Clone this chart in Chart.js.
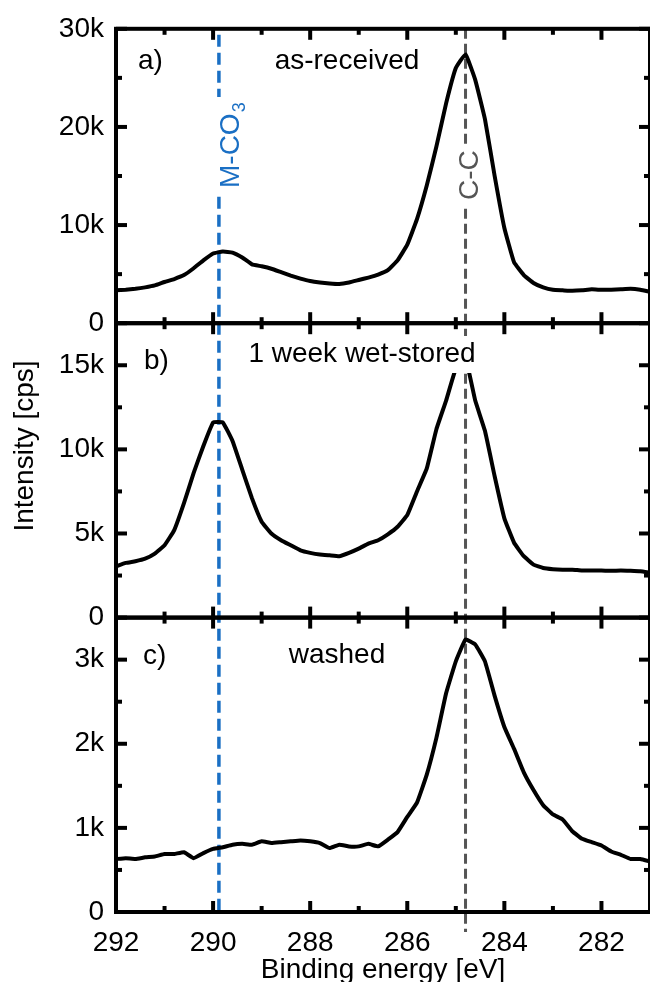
<!DOCTYPE html>
<html>
<head>
<meta charset="utf-8">
<script src="https://cdn.jsdelivr.net/npm/chart.js@4.4.1/dist/chart.umd.min.js"></script>
<style>
  html, body { margin: 0; padding: 0; background: #fff; }
  #wrap { width: 650px; height: 982px; }
</style>
</head>
<body>
<div id="wrap"><canvas id="xps" width="650" height="982"></canvas></div>
<script>
// binding energy grid [eV]
var energy = [292.0, 291.8, 291.6, 291.4, 291.2, 291.0, 290.8, 290.6, 290.4, 290.2,
              290.0, 289.8, 289.6, 289.4, 289.2, 289.0, 288.8, 288.6, 288.4, 288.2,
              288.0, 287.8, 287.6, 287.4, 287.2, 287.0, 286.8, 286.6, 286.4, 286.2,
              286.0, 285.8, 285.6, 285.4, 285.2, 285.0, 284.8, 284.6, 284.4, 284.2,
              284.0, 283.8, 283.6, 283.4, 283.2, 283.0, 282.8, 282.6, 282.4, 282.2,
              282.0, 281.8, 281.6, 281.4, 281.2, 281.0];

// a) as-received [cps]
var asReceived = [3350, 3400, 3500, 3650, 3850, 4200, 4500, 4900, 5600, 6400,
                  7100, 7300, 7200, 6700, 6000, 5800, 5550, 5200, 4850, 4550,
                  4300, 4150, 4050, 4000, 4150, 4400, 4650, 4950, 5400, 6400,
                  8000, 10600, 14000, 18000, 22400, 26000, 27400, 24800, 20800, 15000,
                  9700, 6200, 4900, 4100, 3650, 3400, 3350, 3300, 3350, 3450,
                  3400, 3400, 3450, 3500, 3400, 3200];

// b) 1 week wet-stored [cps]
var wetStored = [3050, 3250, 3350, 3500, 3800, 4300, 5200, 6800, 8600, 10200,
                 11600, 11600, 10500, 8800, 7100, 5700, 5000, 4600, 4300, 4000,
                 3850, 3750, 3700, 3650, 3850, 4100, 4400, 4600, 4950, 5400,
                 6100, 7500, 8850, 11200, 12900, 14800, 15400, 12900, 11100, 8400,
                 5900, 4450, 3650, 3150, 2950, 2880, 2850, 2850, 2800, 2800,
                 2800, 2780, 2800, 2780, 2750, 2670];

// c) washed [cps]
var washed = [630, 640, 630, 650, 660, 690, 690, 710, 640, 700,
              750, 770, 800, 810, 800, 840, 820, 830, 840, 850,
              840, 820, 760, 800, 780, 780, 810, 780, 860, 950,
              1130, 1300, 1630, 2070, 2600, 2980, 3240, 3180, 2980, 2570,
              2200, 1940, 1660, 1450, 1270, 1160, 1100, 960, 870, 830,
              790, 720, 680, 630, 630, 600];

var xTicks = [292, 290, 288, 286, 284, 282];
var xMinor = [291, 289, 287, 285, 283];
var aTicks = [0, 10000, 20000, 30000];
var aMinor = [5000, 15000, 25000];
var bTicks = [0, 5000, 10000, 15000];
var bMinor = [2500, 7500, 12500];
var cTicks = [0, 1000, 2000, 3000];
var cMinor = [500, 1500, 2500];

var panelNames = ['a)', 'b)', 'c)'];
var panelTitles = ['as-received', '1 week wet-stored', 'washed'];
var carbonate = 289.88;   // M-CO3
var adventitious = 284.8; // C-C

var FONT = "'Liberation Sans', Arial, Helvetica, sans-serif";
var BLUE = '#1a6fc4';
var GREY = '#555555';

function kLabel(v) {
  return v === 0 ? '0' : (v / 1000) + 'k';
}

function points(ys) {
  return energy.map(function (e, i) { return { x: e, y: ys[i] }; });
}

function yScale(ticks, max) {
  return {
    type: 'linear',
    position: 'left',
    stack: 'panels',
    stackWeight: 1,
    min: 0,
    max: max,
    grid: { display: false, drawTicks: false },
    border: { display: false },
    afterBuildTicks: function (s) { s.ticks = ticks.map(function (v) { return { value: v }; }); },
    afterFit: function (s) { s.width = 116; },
    ticks: {
      color: '#000',
      padding: 12,
      font: { family: FONT, size: 28 },
      callback: kLabel
    }
  };
}

function line(ctx, x1, y1, x2, y2) {
  ctx.beginPath();
  ctx.moveTo(x1, y1);
  ctx.lineTo(x2, y2);
  ctx.stroke();
}

var decor = {
  id: 'decor',
  beforeDatasetsDraw: function (chart) {
    var ctx = chart.ctx, x = chart.scales.x;
    var top = chart.scales.ya.top, bottom = chart.scales.yc.bottom;
    ctx.save();
    ctx.lineWidth = 3.5;
    ctx.setLineDash([12, 6]);
    ctx.strokeStyle = BLUE;
    var bx = x.getPixelForValue(carbonate);
    line(ctx, bx, top + 6, bx, bottom);
    ctx.lineWidth = 3;
    ctx.setLineDash([10, 5]);
    ctx.strokeStyle = GREY;
    var gx = x.getPixelForValue(adventitious);
    line(ctx, gx, top, gx, bottom + 20);
    ctx.restore();
  },
  afterDatasetsDraw: function (chart) {
    var ctx = chart.ctx, x = chart.scales.x;
    var panels = [
      { s: chart.scales.ya, ticks: aTicks, minor: aMinor },
      { s: chart.scales.yb, ticks: bTicks, minor: bMinor },
      { s: chart.scales.yc, ticks: cTicks, minor: cMinor }
    ];
    ctx.save();
    ctx.strokeStyle = '#000';
    ctx.lineWidth = 4;

    // frames with inward ticks
    panels.forEach(function (p) {
      var t = p.s.top, b = p.s.bottom, l = x.left, r = x.right;
      ctx.strokeRect(l, t, r - l, b - t);
      xTicks.forEach(function (v) {
        var px = x.getPixelForValue(v);
        line(ctx, px, t, px, t + 11);
        line(ctx, px, b, px, b - 11);
      });
      xMinor.forEach(function (v) {
        var px = x.getPixelForValue(v);
        line(ctx, px, t, px, t + 6);
        line(ctx, px, b, px, b - 6);
      });
      p.ticks.forEach(function (v) {
        var py = p.s.getPixelForValue(v);
        line(ctx, l, py, l + 11, py);
        line(ctx, r, py, r - 11, py);
      });
      p.minor.forEach(function (v) {
        var py = p.s.getPixelForValue(v);
        line(ctx, l, py, l + 6, py);
        line(ctx, r, py, r - 6, py);
      });
    });

    // panel labels
    ctx.fillStyle = '#000';
    ctx.font = '28px ' + FONT;
    ctx.textBaseline = 'alphabetic';
    ctx.textAlign = 'left';
    ctx.fillText(panelNames[0], 138, 69);
    ctx.fillText(panelNames[1], 144, 369);
    ctx.fillText(panelNames[2], 143, 664);
    ctx.textAlign = 'center';
    ctx.fillText(panelTitles[0], 347, 69);
    var w = ctx.measureText(panelTitles[1]).width;
    ctx.fillStyle = '#fff';
    ctx.fillRect(362 - w / 2 - 3, 336, w + 6, 37);
    ctx.fillStyle = '#000';
    ctx.fillText(panelTitles[1], 362, 362);
    ctx.fillText(panelTitles[2], 337, 663);

    // rotated peak labels
    var bx = x.getPixelForValue(carbonate);
    ctx.fillStyle = '#fff';
    ctx.fillRect(bx - 4, 97, 34, 98);
    ctx.save();
    ctx.translate(bx + 20, 188);
    ctx.rotate(-Math.PI / 2);
    ctx.fillStyle = BLUE;
    ctx.textAlign = 'left';
    ctx.font = '28px ' + FONT;
    ctx.fillText('M-CO', 0, 0);
    var mw = ctx.measureText('M-CO').width;
    ctx.font = '18px ' + FONT;
    ctx.fillText('3', mw + 1, 6);
    ctx.restore();

    var gx = x.getPixelForValue(adventitious);
    ctx.fillStyle = '#fff';
    ctx.fillRect(gx - 10, 145, 26, 62);
    ctx.save();
    ctx.translate(gx + 12, 200);
    ctx.rotate(-Math.PI / 2);
    ctx.fillStyle = GREY;
    ctx.textAlign = 'left';
    ctx.font = '28px ' + FONT;
    ctx.fillText('C-C', 0, 0);
    ctx.restore();

    // axis titles
    ctx.fillStyle = '#000';
    ctx.font = '28px ' + FONT;
    ctx.textAlign = 'center';
    ctx.fillText('Binding energy [eV]', (x.left + x.right) / 2, 978);
    ctx.save();
    ctx.translate(25, 446);
    ctx.rotate(-Math.PI / 2);
    ctx.textBaseline = 'middle';
    ctx.fillText('Intensity [cps]', 0, 0);
    ctx.restore();

    ctx.restore();
  }
};

var seriesStyle = {
  borderColor: '#000',
  borderWidth: 4,
  pointRadius: 0,
  tension: 0.1,
  fill: false
};

new Chart(document.getElementById('xps'), {
  type: 'line',
  data: {
    datasets: [
      Object.assign({ label: 'as-received', data: points(asReceived), yAxisID: 'ya' }, seriesStyle),
      Object.assign({ label: '1 week wet-stored', data: points(wetStored), yAxisID: 'yb' }, seriesStyle),
      Object.assign({ label: 'washed', data: points(washed), yAxisID: 'yc' }, seriesStyle)
    ]
  },
  options: {
    responsive: false,
    animation: false,
    devicePixelRatio: 1,
    layout: { padding: { top: 24, left: 0, right: 0, bottom: 0 } },
    plugins: { legend: { display: false }, tooltip: { enabled: false } },
    scales: {
      x: {
        type: 'linear',
        reverse: true,
        min: 281,
        max: 292,
        grid: { display: false, drawTicks: false },
        border: { display: false },
        afterBuildTicks: function (s) { s.ticks = xTicks.map(function (v) { return { value: v }; }); },
        afterFit: function (s) { s.height = 70; },
        ticks: {
          color: '#000',
          padding: 14,
          maxRotation: 0,
          font: { family: FONT, size: 28 },
          callback: function (v) { return String(v); }
        }
      },
      yc: yScale(cTicks, 3500),
      yb: yScale(bTicks, 17500),
      ya: yScale(aTicks, 30000)
    }
  },
  plugins: [decor]
});
</script>
</body>
</html>
